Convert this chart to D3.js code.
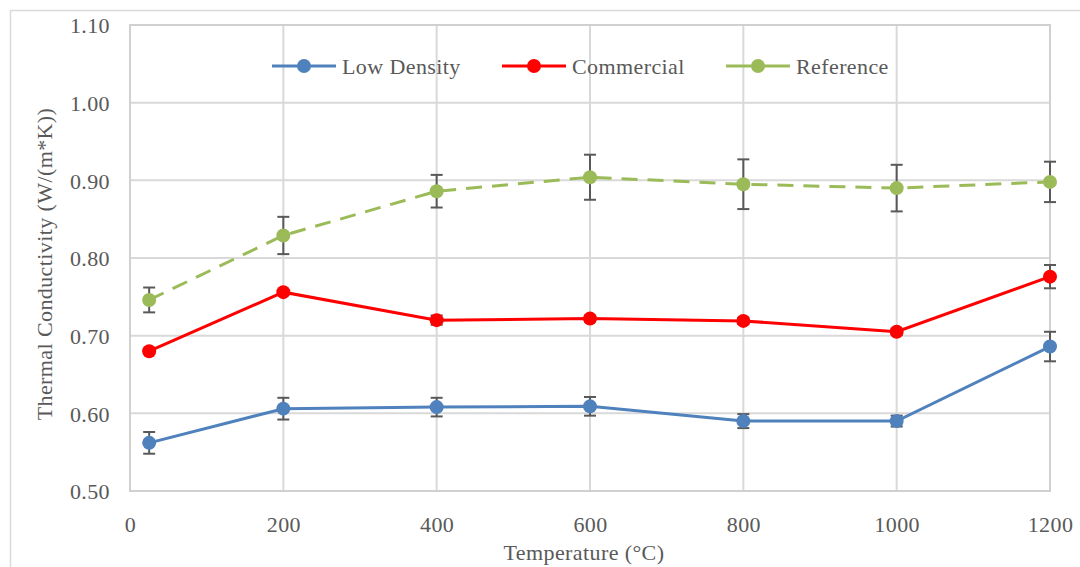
<!DOCTYPE html>
<html>
<head>
<meta charset="utf-8">
<script src="https://cdn.jsdelivr.net/npm/d3@7"></script>
<style>
  body { margin: 0; background: #fff; }
  text { font-family: "Liberation Serif", "DejaVu Serif", serif; fill: #595959; letter-spacing: 0.4px; }
</style>
</head>
<body>
<div id="graph"></div>
<script>
// data
const temps = [25, 200, 400, 600, 800, 1000, 1200];
const lowDensity = [0.562, 0.606, 0.608, 0.609, 0.590, 0.590, 0.686];
const lowDensityErr = [0.014, 0.014, 0.012, 0.012, 0.009, 0.007, 0.019];
const commercial = [0.680, 0.756, 0.720, 0.722, 0.719, 0.705, 0.776];
const commercialErr = [0.003, 0.003, 0.006, 0.004, 0.004, 0.004, 0.015];
const reference = [0.746, 0.829, 0.886, 0.904, 0.895, 0.890, 0.898];
const referenceErr = [0.016, 0.024, 0.021, 0.029, 0.032, 0.030, 0.026];
const xTicks = [0, 200, 400, 600, 800, 1000, 1200];
const yTicks = [0.5, 0.6, 0.7, 0.8, 0.9, 1.0, 1.1];

const seriesNames = ["Low Density", "Commercial", "Reference"];
const seriesColors = ["#4f81bd", "#ff0000", "#9bbb59"];

//set the dimensions and margins of the graph
const W = 1080, H = 567;
const margin = { top: 25, right: 30, bottom: 76, left: 130 },
  width = W - margin.left - margin.right,
  height = H - margin.top - margin.bottom;

const svg = d3.select("#graph").append("svg")
  .attr("width", W).attr("height", H);

// outer chart frame
svg.append("rect")
  .attr("x", 10.5).attr("y", 10.5)
  .attr("width", W + 20).attr("height", H + 20)
  .attr("fill", "none").attr("stroke", "#d9d9d9").attr("stroke-width", 1.5);

const g = svg.append("g")
  .attr("transform", "translate(" + margin.left + "," + margin.top + ")");

const x = d3.scaleLinear().domain([0, 1200]).range([0, width]);
const y = d3.scaleLinear().domain([0.5, 1.1]).range([height, 0]);

// gridlines
g.append("g").selectAll("line.h").data(yTicks).enter().append("line")
  .attr("x1", 0).attr("x2", width)
  .attr("y1", d => y(d)).attr("y2", d => y(d))
  .attr("stroke", "#d9d9d9").attr("stroke-width", 2);
g.append("g").selectAll("line.v").data(xTicks).enter().append("line")
  .attr("x1", d => x(d)).attr("x2", d => x(d))
  .attr("y1", 0).attr("y2", height)
  .attr("stroke", "#d9d9d9").attr("stroke-width", 2);

// plot frame
g.append("rect")
  .attr("x", 0).attr("y", 0).attr("width", width).attr("height", height)
  .attr("fill", "none").attr("stroke", "#d0d0d0").attr("stroke-width", 2);

// axes
const yAxis = g.append("g")
  .call(d3.axisLeft(y).tickValues(yTicks).tickFormat(d3.format(".2f")).tickSize(0).tickPadding(20));
const xAxis = g.append("g")
  .attr("transform", "translate(0," + height + ")")
  .call(d3.axisBottom(x).tickValues(xTicks).tickFormat(d3.format("d")).tickSize(0).tickPadding(25));
[yAxis, xAxis].forEach(a => {
  a.select(".domain").remove();
  a.selectAll("text").attr("fill", "#595959").style("font-size", "22px");
});
yAxis.selectAll("text").attr("dy", "0.35em");

// axis titles
svg.append("text")
  .attr("transform", "rotate(-90)")
  .attr("x", -264)
  .attr("y", 52)
  .attr("text-anchor", "middle")
  .style("font-size", "22px")
  .text("Thermal Conductivity (W/(m*K))");
svg.append("text")
  .attr("x", 584)
  .attr("y", 560)
  .attr("text-anchor", "middle")
  .style("font-size", "22px")
  .text("Temperature (°C)");

const series = [
  { name: seriesNames[0], vals: lowDensity, err: lowDensityErr, color: seriesColors[0], dash: null },
  { name: seriesNames[1], vals: commercial, err: commercialErr, color: seriesColors[1], dash: null },
  { name: seriesNames[2], vals: reference, err: referenceErr, color: seriesColors[2], dash: "16,10" }
];

const line = d3.line().x(d => x(d.t)).y(d => y(d.v));

series.forEach(s => {
  const pts = temps.map((t, i) => ({ t: t, v: s.vals[i], e: s.err[i] }));
  g.append("path").datum(pts)
    .attr("d", line)
    .attr("fill", "none")
    .attr("stroke", s.color)
    .attr("stroke-width", 3)
    .attr("stroke-dasharray", s.dash);

  // error bars
  const eb = g.append("g").attr("stroke", "#595959").attr("stroke-width", 2);
  pts.forEach(p => {
    eb.append("line")
      .attr("x1", x(p.t)).attr("x2", x(p.t))
      .attr("y1", y(p.v + p.e)).attr("y2", y(p.v - p.e));
    [p.v + p.e, p.v - p.e].forEach(v => {
      eb.append("line")
        .attr("x1", x(p.t) - 6).attr("x2", x(p.t) + 6)
        .attr("y1", y(v)).attr("y2", y(v));
    });
  });

  g.append("g").selectAll("circle").data(pts).enter().append("circle")
    .attr("cx", d => x(d.t)).attr("cy", d => y(d.v))
    .attr("r", 7).attr("fill", s.color);
});

// legend
const legendX = [272, 502, 726];
const legend = svg.append("g").attr("transform", "translate(0,66)");
series.forEach((s, i) => {
  const lg = legend.append("g").attr("transform", "translate(" + legendX[i] + ",0)");
  lg.append("line").attr("x1", 0).attr("x2", 64).attr("y1", 0).attr("y2", 0)
    .attr("stroke", s.color).attr("stroke-width", 3);
  lg.append("circle").attr("cx", 32).attr("cy", 0).attr("r", 7).attr("fill", s.color);
  lg.append("text").attr("x", 70).attr("dy", "0.35em")
    .style("font-size", "22px").text(s.name);
});
</script>
</body>
</html>
